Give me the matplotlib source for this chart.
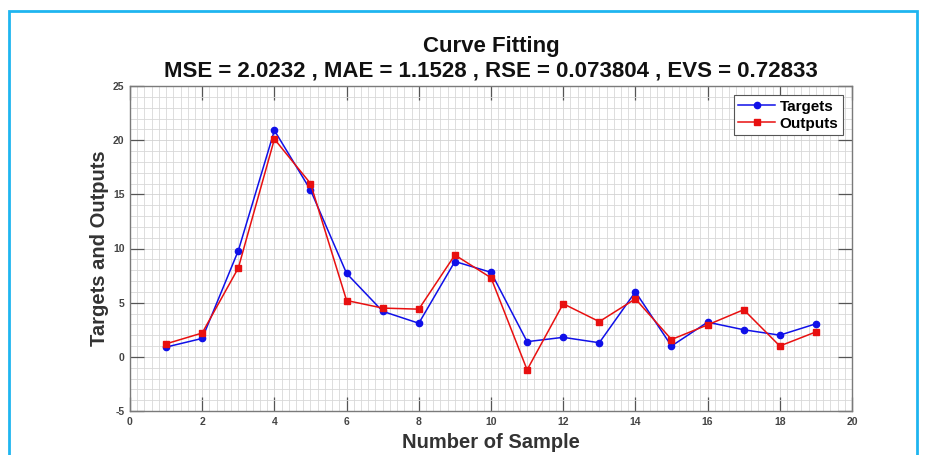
import matplotlib
matplotlib.use("Agg")
import matplotlib.pyplot as plt
from matplotlib.patches import Rectangle
from matplotlib.ticker import MultipleLocator

plt.rcParams['font.family'] = ['Liberation Sans', 'DejaVu Sans']
plt.rcParams['axes.unicode_minus'] = False

# values
samples = list(range(1, 20))
targets = [0.9, 1.7, 9.8, 20.9, 15.4, 7.7, 4.2, 3.1, 8.8, 7.8,
           1.4, 1.8, 1.3, 6.0, 1.0, 3.2, 2.5, 2.0, 3.05]
outputs = [1.2, 2.2, 8.2, 20.1, 16.0, 5.2, 4.5, 4.4, 9.4, 7.3,
           -1.2, 4.9, 3.25, 5.35, 1.6, 2.95, 4.35, 1.0, 2.3]
metrics = "MSE = 2.0232 , MAE = 1.1528 , RSE = 0.073804 , EVS = 0.72833"

fig = plt.figure(figsize=(9.28, 4.55), dpi=100)

# light blue frame around the figure (bottom edge cut off in the original)
fig.patches.append(Rectangle((9 / 928, -0.05), (917 - 9) / 928, 1.05 - 11 / 455,
                             transform=fig.transFigure, fill=False,
                             edgecolor='#1fb5f0', linewidth=2))

ax = fig.add_axes([130 / 928, 1 - 411 / 455, 722 / 928, 325 / 455])

ax.plot(samples, targets, color='#1010e8', marker='o', markersize=4.5,
        linewidth=1.1, label='Targets')
ax.plot(samples, outputs, color='#e81010', marker='s', markersize=4,
        linewidth=1.1, label='Outputs')

ax.set_xlim(0, 20)
ax.set_ylim(-5, 25)
ax.xaxis.set_major_locator(MultipleLocator(2))
ax.xaxis.set_minor_locator(MultipleLocator(0.2))
ax.yaxis.set_major_locator(MultipleLocator(5))
ax.yaxis.set_minor_locator(MultipleLocator(1))

ax.grid(which='major', color='#d2d2d2', linewidth=0.6)
ax.grid(which='minor', color='#d8d8d8', linewidth=0.6)
ax.set_axisbelow(True)

ax.tick_params(which='major', direction='in', length=10, width=0.9,
               color='#555555', top=True, right=True, labelsize=7.5,
               labelcolor='#444444', pad=4)
ax.tick_params(which='minor', length=0, top=True, right=True)
for lbl in ax.get_xticklabels() + ax.get_yticklabels():
    lbl.set_fontweight('bold')
for s in ax.spines.values():
    s.set_color('#7a7a7a')
    s.set_linewidth(1.0)

ax.set_xlabel('Number of Sample', fontsize=14.5, fontweight='bold', color='#333333', labelpad=5)
ax.set_ylabel('Targets and Outputs', fontsize=14.5, fontweight='bold', color='#333333', labelpad=3)
ax.set_title('Curve Fitting\n' + metrics, fontsize=16, fontweight='bold', color='#111111',
             pad=7, linespacing=1.2)

leg = ax.legend(loc='upper right', prop={'weight': 'bold', 'size': 11},
                fancybox=False, framealpha=1, edgecolor='#555555',
                handlelength=2.4, handletextpad=0.3, borderpad=0.3, labelspacing=0.2,
                borderaxespad=0.6)
leg.get_frame().set_linewidth(0.8)

fig.savefig('out.png', dpi=100)
